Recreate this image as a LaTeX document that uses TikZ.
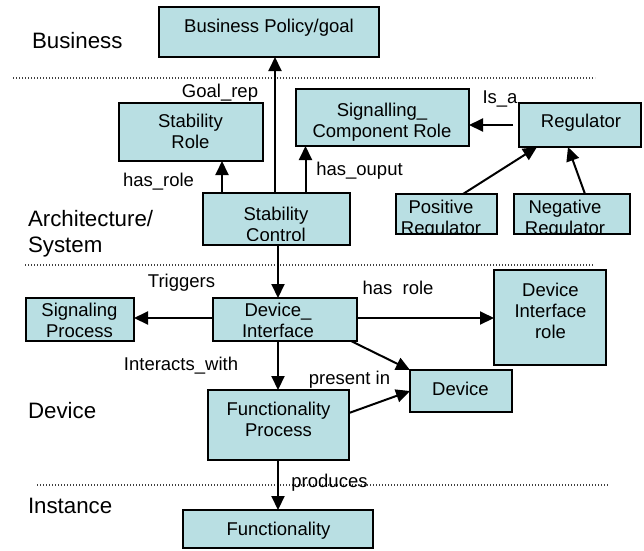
\documentclass[tikz,border=0pt]{standalone}
\usepackage{fontspec}
\setmainfont{Liberation Sans}
\usetikzlibrary{arrows.meta}
\definecolor{boxfill}{RGB}{185,223,227}
\tikzset{
  box/.style={draw=black, line width=2pt, fill=boxfill, inner sep=0pt, outer sep=0pt},
  txt/.style={inner sep=0pt, outer sep=0pt, align=center, font=\fontsize{18.5}{21}\selectfont},
  lbl/.style={inner sep=0pt, outer sep=0pt, anchor=base, font=\fontsize{18.5}{21}\selectfont},
  layer/.style={inner sep=0pt, outer sep=0pt, align=left, font=\fontsize{22.3}{26}\selectfont},
  arr/.style={line width=2pt, -{Triangle[length=14pt,width=13pt]}},
  sep/.style={line width=1.1pt, black!75, dash pattern=on 1.2pt off 1.8pt},
}
\begin{document}
\begin{tikzpicture}[x=1pt,y=-1pt]
\useasboundingbox (0,0) rectangle (644,550);

% layer separators
\draw[sep] (13,78) -- (595,78);
\draw[sep] (25,265) -- (593,265);
\draw[sep] (37,485) -- (608,485);

% layer names
\node[layer, anchor=base west] (l-bus) at (32,48) {Business};
\node[layer, anchor=west] (l-arch) at (28,233.6) {Architecture/\\System};
\node[layer, anchor=base west] (l-dev) at (28,418) {Device};
\node[layer, anchor=base west] (l-inst) at (28,513) {Instance};

% boxes
\node[box, minimum width=220pt, minimum height=50pt] (bp) at (269,32) {};
\node[box, minimum width=144pt, minimum height=58pt] (sr) at (191,132) {};
\node[box, minimum width=147pt, minimum height=52pt] (sc) at (276.5,219) {};
\node[box, minimum width=173pt, minimum height=57pt] (scr) at (382.5,117.5) {};
\node[box, minimum width=122pt, minimum height=44pt] (reg) at (580,125) {};
\node[box, minimum width=101pt, minimum height=40pt] (pr) at (446.5,214) {};
\node[box, minimum width=116pt, minimum height=40pt] (nr) at (571.5,214) {};
\node[box, minimum width=108pt, minimum height=43pt] (sp) at (80,319.5) {};
\node[box, minimum width=144pt, minimum height=43pt] (di) at (285,319.5) {};
\node[box, minimum width=112pt, minimum height=95pt] (dir) at (550,317.5) {};
\node[box, minimum width=102pt, minimum height=42pt] (dev) at (461,391) {};
\node[box, minimum width=141pt, minimum height=70pt] (fp) at (278.5,425) {};
\node[box, minimum width=190pt, minimum height=38pt] (fn) at (278,529) {};

% box texts
\node[lbl] (bp-t) at (269,32) {Business Policy/goal};
\node[txt] (sr-t) at (190.5,131.75) {Stability\\Role};
\begin{scope}
  \clip (sc.north west) rectangle ([yshift=5pt]sc.south east);
  \node[txt] (sc-t) at (276,224.75) {Stability\\Control};
\end{scope}
\node[txt] (scr-t) at (382,122.6) {Signalling\_\\Component Role};
\node[lbl] (reg-t) at (581,127) {Regulator};
\begin{scope}
  \clip (pr.north west) rectangle ([yshift=1pt]pr.south east);
  \node[txt] (pr-t) at (441,219.5) {Positive\\Regulator};
\end{scope}
\begin{scope}
  \clip (nr.north west) rectangle ([yshift=1pt]nr.south east);
  \node[txt] (nr-t) at (565,219.5) {Negative\\Regulator};
\end{scope}
\node[txt] (sp-t) at (79.5,320) {Signaling\\Process};
\node[txt] (di-t) at (278,320.5) {Device\_\\Interface};
\node[txt] (dir-t) at (550.5,310.5) {Device\\Interface\\role};
\node[lbl] (dev-t) at (460.5,395) {Device};
\node[txt] (fp-t) at (278.5,419.5) {Functionality\\Process};
\node[lbl] (fn-t) at (278.5,535) {Functionality};

% connectors
\draw[arr] ([xshift=-1.5pt]sc.north) -- ([xshift=6pt]bp.south);
\draw[arr] ([xshift=-54.5pt]sc.north) -- ([xshift=31pt]sr.south);
\draw[arr] ([xshift=29pt]sc.north) -- ([xshift=-77pt]scr.south);
\draw[arr, shorten <=6pt] (reg.west) -- ([yshift=-7.5pt]scr.east);
\draw[arr] ([xshift=16.5pt]pr.north) -- ([xshift=-43pt]reg.south);
\draw[arr] ([xshift=13.5pt]nr.north) -- ([xshift=-12pt]reg.south);
\draw[arr] ([xshift=1.5pt]sc.south) -- ([xshift=-7pt]di.north);
\draw[arr] ([yshift=1.5pt]di.west) -- ([yshift=1.5pt]sp.east);
\draw[arr] ([yshift=1.5pt]di.east) -- ([yshift=-0.5pt]dir.west);
\draw[arr] ([xshift=-6pt]di.south east) -- (dev.north west);
\draw[arr] ([xshift=-7pt]di.south) -- ([xshift=-0.5pt]fp.north);
\draw[arr] ([yshift=12pt]fp.east) -- (dev.west);
\draw[arr] ([xshift=-0.5pt]fp.south) -- (fn.north);

% connector labels
\node[lbl] (goal) at (220,97) {Goal\_rep};
\node[lbl] (hasrole) at (158.5,186) {has\_role};
\node[lbl] (hasout) at (359.5,175) {has\_ouput};
\node[lbl] (isa) at (500,103) {Is\_a};
\node[lbl] (trig) at (181.5,287) {Triggers};
\node[lbl] (hasrole2) at (398,294) {has\ \ role};
\node[lbl] (inter) at (181,370) {Interacts\_with};
\node[lbl] (present) at (349.5,384) {present in};
\node[lbl] (prod) at (329.5,487) {produces};
\end{tikzpicture}
\end{document}
